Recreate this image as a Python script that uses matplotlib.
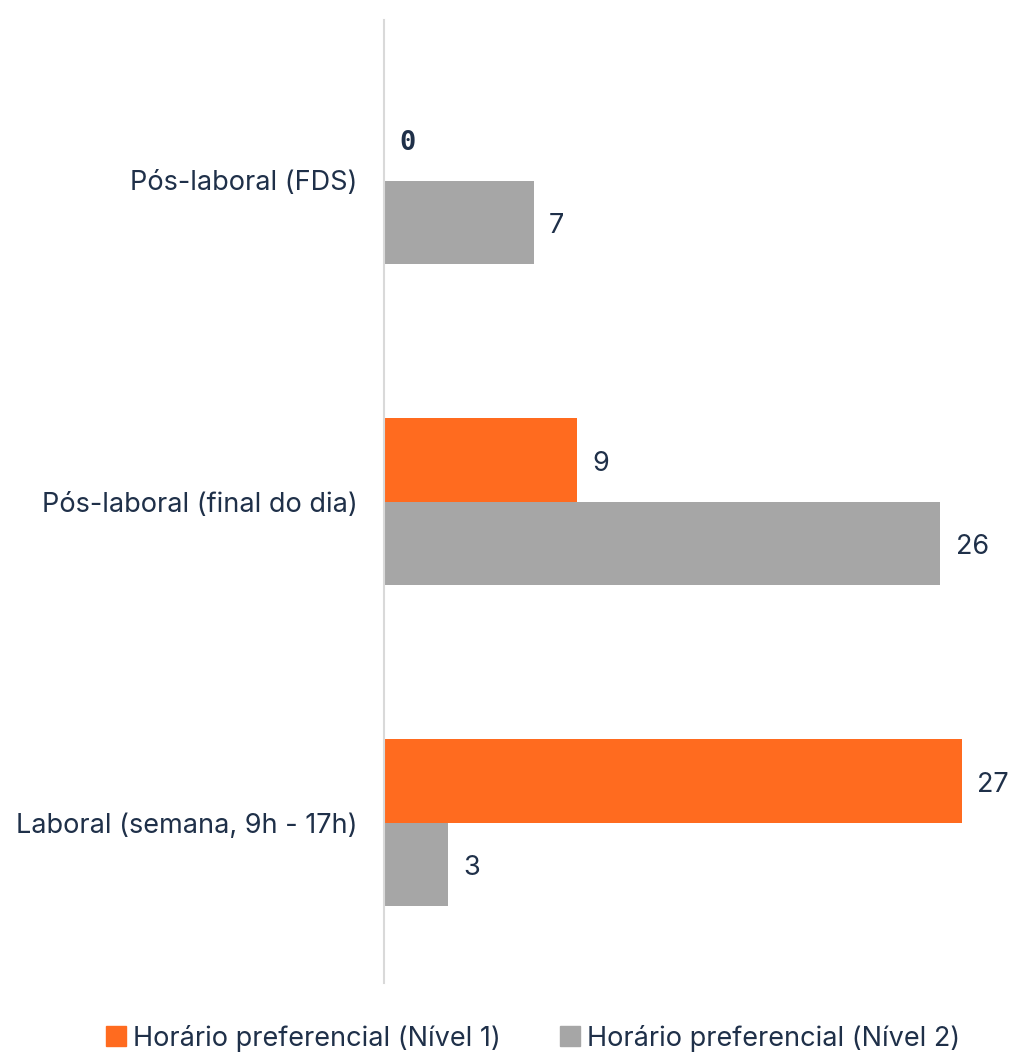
import matplotlib.pyplot as plt
import numpy as np
from matplotlib.patches import Patch

# Preferred schedule counts per time slot
categories = ['Laboral (semana, 9h - 17h)', 'Pós-laboral (final do dia)', 'Pós-laboral (FDS)']
nivel1 = [27, 9, 0]
nivel2 = [3, 26, 7]
series_names = ['Horário preferencial (Nível 1)', 'Horário preferencial (Nível 2)']

ORANGE = '#ff6b1f'
GRAY = '#a6a6a6'
TEXT = '#1f3049'
FS = 19.5

plt.rcParams['font.family'] = ['Inter', 'DejaVu Sans']

fig = plt.figure(figsize=(10.13, 10.53), dpi=100)
ax = fig.add_axes([384/1013, 70/1053, 610/1013, 963/1053])

y = np.arange(len(categories))
h = 0.26
bars1 = ax.barh(y + h/2, nivel1, height=h, color=ORANGE)
bars2 = ax.barh(y - h/2, nivel2, height=h, color=GRAY)

ax.set_xlim(0, 28.5)
ax.set_ylim(-0.5, 2.5)

# value labels just past the end of each bar
for bars, vals in ((bars1, nivel1), (bars2, nivel2)):
  for b, v in zip(bars, vals):
    if v == 0:
      kw = dict(family=['DejaVu Sans Mono'], fontweight='bold')
    else:
      kw = {}
    ax.text(v + 0.72, b.get_y() + b.get_height()/2 - 0.012, str(v),
            va='center', ha='left', fontsize=FS, color=TEXT, **kw)

ax.set_yticks(y)
ax.set_yticklabels(categories, fontsize=FS, color=TEXT)
ax.tick_params(axis='y', length=0, pad=19)
ax.set_xticks([])

for s in ('top', 'right', 'bottom'):
  ax.spines[s].set_visible(False)
ax.spines['left'].set_color('#d9d9d9')
ax.spines['left'].set_linewidth(1.5)

handles = [Patch(color=ORANGE), Patch(color=GRAY)]
fig.legend(handles, series_names, loc='lower center', bbox_to_anchor=(0.526, -0.022),
           ncol=2, frameon=False, fontsize=FS, labelcolor=TEXT,
           handlelength=0.75, handleheight=0.75, handletextpad=0.25, columnspacing=2.2)

fig.savefig('out.png', dpi=100)
